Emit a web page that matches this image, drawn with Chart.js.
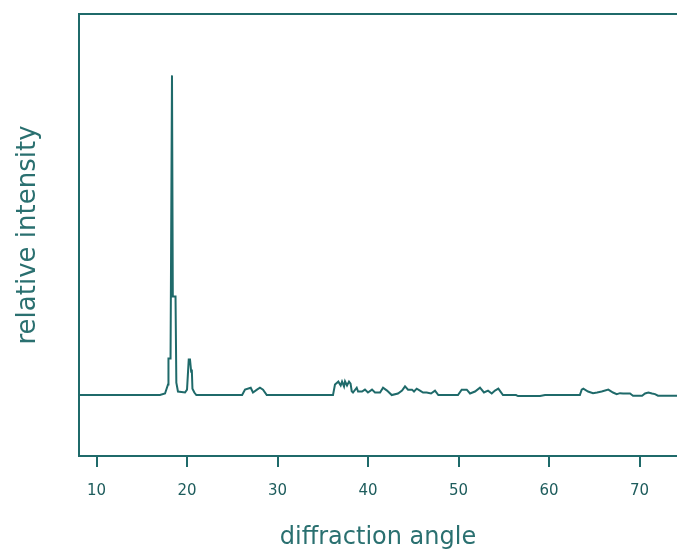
<!DOCTYPE html>
<html>
<head>
<meta charset="utf-8">
<script src="https://cdn.jsdelivr.net/npm/chart.js@4/dist/chart.umd.min.js"></script>
<style>
  html, body { margin: 0; padding: 0; background: #ffffff; overflow: hidden; }
  #wrap { width: 677px; height: 552px; position: relative; }
</style>
</head>
<body>
<div id="wrap"><canvas id="c" width="677" height="552"></canvas></div>
<script>
// diffraction angle (x) and relative intensity (y)
const angles = [8.06, 17.0, 17.56, 17.89, 17.94, 18.17, 18.33, 18.42, 18.72, 18.81, 18.99, 19.77, 19.99, 20.18, 20.32, 20.45, 20.52, 20.59, 20.8, 21.02,
  26.08, 26.4, 27.03, 27.28, 27.72, 28.05, 28.39, 28.8,
  36.12, 36.34, 36.71, 36.97, 37.12, 37.34, 37.45, 37.67, 37.89, 38.06, 38.19, 38.33, 38.74, 38.89, 39.33, 39.65, 39.98, 40.43, 40.76, 41.32, 41.65, 42.09, 42.61,
  43.3, 43.75, 44.08, 44.41, 44.85, 45.07, 45.37, 45.73, 46.07, 46.47, 46.95, 47.39, 47.76,
  49.93, 50.34, 50.9, 51.26, 51.81, 52.36, 52.8, 53.25, 53.66, 54.02, 54.39, 54.9, 56.34, 56.56, 59.0, 59.55,
  63.4, 63.6, 63.78, 64.3, 64.85, 65.3, 65.81, 66.54, 67.06, 67.47, 67.83, 68.17, 68.94, 69.27, 70.27, 70.6, 70.97, 71.37, 71.7, 72.03, 74.13];
const intensities = [0, 0, 0.5, 3.3, 11.4, 11.4, 100, 30.8, 30.8, 3.9, 1.1, 0.8, 1.7, 11.1, 11.1, 7.3, 8.0, 2.0, 0.8, 0,
  0, 1.7, 2.3, 0.8, 1.7, 2.3, 1.7, 0,
  0, 3.3, 4.2, 3.0, 4.2, 2.7, 4.3, 3.0, 4.2, 3.6, 1.2, 0.8, 2.3, 1.1, 1.1, 1.7, 0.8, 1.7, 0.8, 0.8, 2.3, 1.4, 0,
  0.5, 1.4, 2.7, 1.7, 1.7, 1.1, 2.0, 1.4, 0.8, 0.8, 0.5, 1.4, 0,
  0, 1.7, 1.7, 0.5, 1.1, 2.3, 0.8, 1.4, 0.5, 1.4, 2.0, 0, 0, -0.3, -0.3, 0,
  0, 1.7, 2.0, 1.1, 0.6, 0.8, 1.1, 1.7, 0.8, 0.3, 0.6, 0.5, 0.5, -0.2, -0.2, 0.5, 0.8, 0.5, 0.3, -0.2, -0.2];
const tickValues = [10, 20, 30, 40, 50, 60, 70];
const xMin = 8.055, xMax = 74.13;
const yMin = -19.06, yMax = 119.2;

const ink = '#1f6a6a';
const textInk = '#2a7070';
const tickInk = '#1d5c5c';

const points = angles.map((a, i) => ({ x: a, y: intensities[i] }));

new Chart(document.getElementById('c'), {
  type: 'line',
  data: {
    datasets: [{
      data: points,
      borderColor: ink,
      borderWidth: 2,
      pointRadius: 0,
      tension: 0,
      fill: false
    }]
  },
  options: {
    responsive: false,
    animation: false,
    events: [],
    layout: { padding: 0 },
    plugins: { legend: { display: false }, tooltip: { enabled: false } },
    scales: {
      x: {
        type: 'linear',
        position: 'bottom',
        min: xMin,
        max: xMax,
        afterBuildTicks: (s) => { s.ticks = tickValues.map(v => ({ value: v })); },
        afterFit: (s) => { s.height = 96; },
        grid: { display: true, drawOnChartArea: false, drawTicks: true, tickLength: 11, color: ink, lineWidth: 2 },
        border: { display: true, color: ink, width: 2 },
        ticks: { color: tickInk, padding: 15, maxRotation: 0, font: { family: 'DejaVu Sans', size: 15 },
                  callback: (v) => String(v) },
        title: { display: true, text: 'diffraction angle', color: textInk,
                 font: { family: 'DejaVu Sans', size: 24 }, padding: { top: 0, bottom: 0 } }
      },
      x2: {
        type: 'linear',
        position: 'top',
        min: xMin,
        max: xMax,
        afterFit: (s) => { s.height = 14; },
        grid: { display: false, drawTicks: false },
        border: { display: true, color: ink, width: 2 },
        ticks: { display: false }
      },
      y: {
        type: 'linear',
        position: 'left',
        min: yMin,
        max: yMax,
        afterFit: (s) => { s.width = 79; },
        grid: { display: false, drawTicks: false },
        border: { display: true, color: ink, width: 2 },
        ticks: { display: false },
        title: { display: true, text: 'relative intensity', color: textInk,
                 font: { family: 'DejaVu Sans', size: 26 }, padding: { top: 13, bottom: 0 } }
      }
    }
  }
});
</script>
</body>
</html>
